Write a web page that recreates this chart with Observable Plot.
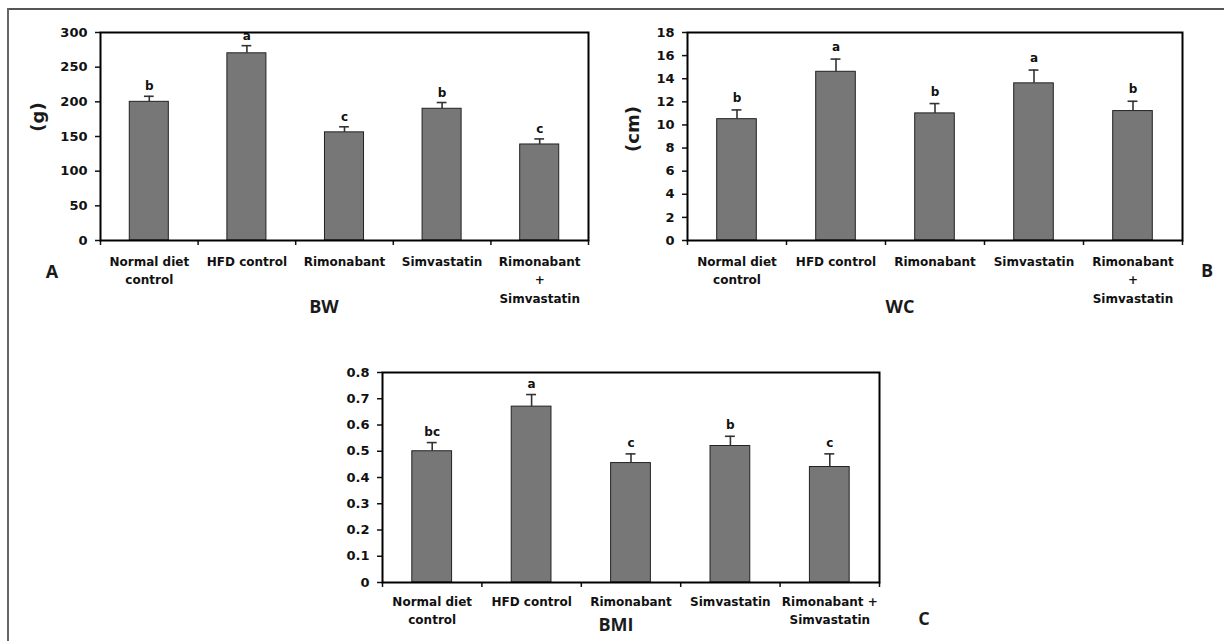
<!DOCTYPE html>
<html>
<head>
<meta charset="utf-8">
<script src="https://cdn.jsdelivr.net/npm/d3@7"></script>
<script src="https://cdn.jsdelivr.net/npm/@observablehq/plot@0.6"></script>
<style>
  html, body { margin: 0; padding: 0; background: #fff; }
  #page { position: relative; width: 1224px; height: 641px; overflow: hidden; background: #fff; }
  .panel { position: absolute; }
  .lbl { position: absolute; transform: translate(-50%, -50%); white-space: nowrap; color: #1a1a1a; }
  .title { font-family: "Open Sans", sans-serif; font-weight: 700; font-size: 18px; }
  .ylab { font-family: "DejaVu Sans", sans-serif; font-weight: bold; font-size: 18px; transform: translate(-50%, -50%) rotate(-90deg); }
  #borderTop { position: absolute; left: 8px; top: 8px; width: 1216px; height: 0; border-top: 2px solid #555; }
  #borderLeft { position: absolute; left: 7px; top: 8px; width: 0; height: 633px; border-left: 2px solid #666; }
</style>
</head>
<body>
<div id="page">
  <div id="borderTop"></div>
  <div id="borderLeft"></div>
</div>
<script>
// ---------- data ----------
const categoriesAB = ["Normal diet\ncontrol", "HFD control", "Rimonabant", "Simvastatin", "Rimonabant\n+\nSimvastatin"];
const categoriesC = ["Normal diet\ncontrol", "HFD control", "Rimonabant", "Simvastatin", "Rimonabant +\nSimvastatin"];

const bwMean = [200, 270, 156, 190, 138.5];
const bwErr = [8, 11, 8, 9, 8];
const bwLetters = ["b", "a", "c", "b", "c"];
const bwTicks = [0, 50, 100, 150, 200, 250, 300];

const wcMean = [10.5, 14.6, 11.0, 13.6, 11.2];
const wcErr = [0.8, 1.1, 0.85, 1.15, 0.85];
const wcLetters = ["b", "a", "b", "a", "b"];
const wcTicks = [0, 2, 4, 6, 8, 10, 12, 14, 16, 18];

const bmiMean = [0.50, 0.67, 0.455, 0.52, 0.44];
const bmiErr = [0.033, 0.046, 0.035, 0.037, 0.05];
const bmiLetters = ["bc", "a", "c", "b", "c"];
const bmiTicks = [0, 0.1, 0.2, 0.3, 0.4, 0.5, 0.6, 0.7, 0.8];

const boundaryTicks = [0, 1, 2, 3, 4, 5];

// ---------- builder ----------
function panel(cfg) {
  const rows = cfg.cats.map((c, i) => ({
    cat: c, i, x1: i + 0.3, x2: i + 0.7, xc: i + 0.5,
    cl: i + 0.45, cr: i + 0.55,
    v: cfg.mean[i], top: cfg.mean[i] + cfg.err[i], letter: cfg.letters[i]
  }));
  return Plot.plot({
    width: cfg.width, height: cfg.height,
    marginLeft: cfg.ml, marginTop: cfg.mt, marginRight: 20, marginBottom: cfg.mb,
    style: { fontFamily: "DejaVu Sans, sans-serif", fontWeight: "bold", fontSize: "12.5px", color: "#111", background: "transparent", overflow: "visible" },
    x: { domain: [0, 5], axis: null },
    y: { domain: cfg.domain, axis: null },
    marks: [
      Plot.axisY({ ticks: cfg.ticks, tickSize: 5, tickPadding: 8, tickFormat: d => String(d), label: null, strokeWidth: 1.5, fontSize: 13, fontWeight: "bold" }),
      Plot.axisX({ ticks: boundaryTicks, tickSize: 5, tickFormat: () => "", label: null, strokeWidth: 1.5 }),
      Plot.rectY(rows, { x1: "x1", x2: "x2", y: "v", fill: "#777777", stroke: "#222", strokeWidth: 1, inset: 0 }),
      Plot.ruleX(rows, { x: "xc", y1: "v", y2: "top", stroke: "#333", strokeWidth: 1.6 }),
      Plot.ruleY(rows, { y: "top", x1: "cl", x2: "cr", stroke: "#333", strokeWidth: 1.6 }),
      Plot.text(rows, { x: "xc", y: "top", text: "letter", dy: cfg.letterDy, lineAnchor: "bottom", fontSize: 12, fontWeight: "bold", fill: "#111" }),
      Plot.text(rows, { x: "xc", y: cfg.domain[0], text: "cat", dy: cfg.catDy, lineAnchor: "top", lineHeight: cfg.lh, fontSize: 12, fontWeight: "bold", fill: "#111" }),
      Plot.frame({ stroke: "#000", strokeWidth: 2 })
    ]
  });
}

const page = document.getElementById("page");
function place(el, left, top) {
  el.classList.add("panel");
  el.style.left = left + "px";
  el.style.top = top + "px";
  page.appendChild(el);
}

place(panel({ cats: categoriesAB, mean: bwMean, err: bwErr, letters: bwLetters, ticks: bwTicks, domain: [0, 300],
  width: 608, height: 310, ml: 100, mt: 32, mb: 70, letterDy: -6, catDy: 12, lh: 1.54 }), 0, 0);

place(panel({ cats: categoriesAB, mean: wcMean, err: wcErr, letters: wcLetters, ticks: wcTicks, domain: [0, 18],
  width: 582, height: 310, ml: 67, mt: 32, mb: 70, letterDy: -8, catDy: 12, lh: 1.54 }), 620, 0);

place(panel({ cats: categoriesC, mean: bmiMean, err: bmiErr, letters: bmiLetters, ticks: bmiTicks, domain: [0, 0.8],
  width: 579, height: 301, ml: 62, mt: 32, mb: 59, letterDy: -7, catDy: 11, lh: 1.5 }), 320, 340);

// ---------- text labels ----------
function label(text, cls, x, y) {
  const d = document.createElement("div");
  d.className = "lbl " + cls;
  d.textContent = text;
  d.style.left = x + "px";
  d.style.top = y + "px";
  page.appendChild(d);
}
label("BW", "title", 324, 306);
label("WC", "title", 900, 306);
label("BMI", "title", 616, 624);
label("A", "title", 52, 271);
label("B", "title", 1207, 270);
label("C", "title", 924, 618);
label("(g)", "ylab", 37, 117);
label("(cm)", "ylab", 632, 129);
</script>
</body>
</html>
